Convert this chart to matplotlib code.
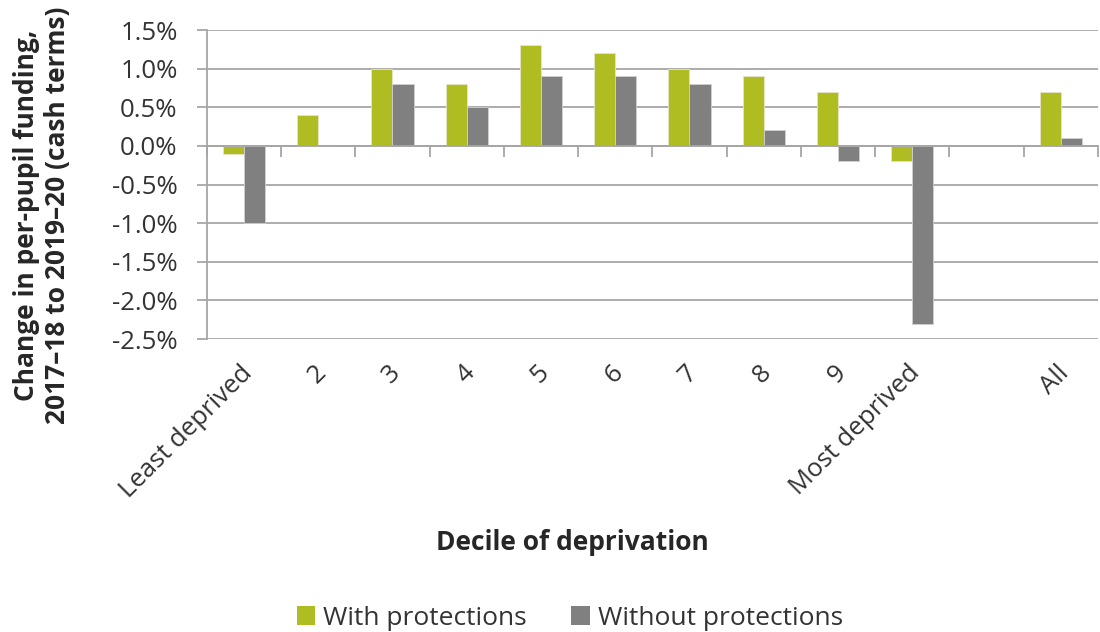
import numpy as np
import matplotlib.pyplot as plt
from matplotlib.patches import Patch
import matplotlib.transforms as mtransforms

plt.rcParams['font.family'] = ['Open Sans', 'DejaVu Sans']

# Decile categories (blank slot separates the overall figure)
deciles = ["Least deprived", "2", "3", "4", "5", "6", "7", "8", "9", "Most deprived", "", "All"]
with_protections = [-0.1, 0.4, 1.0, 0.8, 1.3, 1.2, 1.0, 0.9, 0.7, -0.2, np.nan, 0.7]
without_protections = [-1.0, 0.0, 0.8, 0.5, 0.9, 0.9, 0.8, 0.2, -0.2, -2.3, np.nan, 0.1]
y_ticks = [1.5, 1.0, 0.5, 0.0, -0.5, -1.0, -1.5, -2.0, -2.5]

green = "#AFBD22"
grey = "#808080"
line_col = "#A6A6A6"
txt_col = "#333333"

fig = plt.figure(figsize=(11, 6.32), dpi=100)
ax = fig.add_axes([0.188, 0.4636, 0.810, 0.4889])

x = np.arange(len(deciles))
w = 0.285
ax.bar(x - w / 2, with_protections, w, color=green, edgecolor="#e6e6c8", linewidth=0.6, zorder=3)
ax.bar(x + w / 2, without_protections, w, color=grey, edgecolor="#d0d0d0", linewidth=0.6, zorder=3)

ax.set_xlim(-0.5, len(deciles) - 0.5)
ax.set_ylim(-2.5, 1.5)
ax.set_yticks(y_ticks)
ax.set_yticklabels([f"{v:.1f}%" for v in y_ticks], fontsize=18.5, color=txt_col)
ax.yaxis.grid(True, color=line_col, linewidth=1.3, zorder=0)
ax.tick_params(axis="y", length=7, width=1.3, color=line_col, pad=14)

# horizontal axis sits on zero, with ticks between categories
for s in ["top", "right"]:
    ax.spines[s].set_visible(False)
ax.spines["bottom"].set_position(("data", 0))
ax.spines["bottom"].set_color(line_col)
ax.spines["bottom"].set_linewidth(1.3)
ax.spines["bottom"].set_zorder(4)
ax.spines["left"].set_color(line_col)
ax.spines["left"].set_linewidth(1.3)
ax.set_xticks(x)
ax.set_xticklabels([])
ax.set_xticks(np.arange(-0.5, len(deciles), 1.0), minor=True)
ax.tick_params(axis="x", which="major", length=0)
ax.tick_params(axis="x", which="minor", length=8, width=1.3, color=line_col, direction="out")

# category labels below the plot area
trans = mtransforms.blended_transform_factory(ax.transData, ax.transAxes)
for xi, lab in zip(x, deciles):
    ax.text(xi - 0.06, -0.07, lab, transform=trans, rotation=45, ha="right", va="top",
            rotation_mode="anchor", fontsize=18.5, color=txt_col)

fig.text(0.038, 0.66, "Change in per-pupil funding,\n2017–18 to 2019–20 (cash terms)",
         rotation=90, ha="center", va="center", fontsize=19, fontweight="bold",
         color="#262626", linespacing=1.2)
fig.text(0.52, 0.142, "Decile of deprivation", ha="center", va="center",
         fontsize=19, fontweight="bold", color="#262626")

handles = [Patch(facecolor=green, label="With protections"),
           Patch(facecolor=grey, label="Without protections")]
fig.legend(handles=handles, loc="center", bbox_to_anchor=(0.518, 0.022), ncol=2,
           frameon=False, fontsize=19, handlelength=0.7, handleheight=0.7,
           handletextpad=0.3, columnspacing=1.7, labelcolor=txt_col)

fig.savefig("out.png", dpi=100)
